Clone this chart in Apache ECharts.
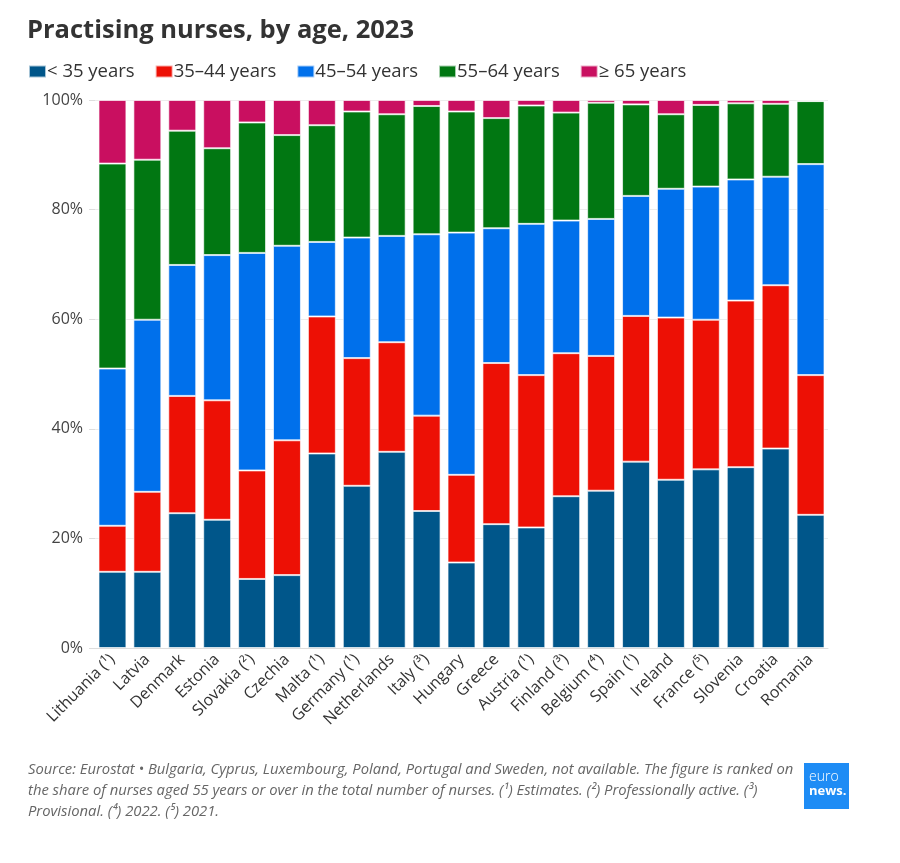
<!DOCTYPE html>
<html>
<head>
<meta charset="utf-8">
<title>Practising nurses, by age, 2023</title>
<script src="https://cdn.jsdelivr.net/npm/echarts@6/dist/echarts.min.js"></script>
<style>
html, body { margin: 0; padding: 0; background: #fff; }
#main { width: 900px; height: 863px; }
</style>
</head>
<body>
<div id="main"></div>
<script type="text/javascript">
// countries, ranked on share aged 55+
var countries = ['Lithuania (¹)', 'Latvia', 'Denmark', 'Estonia', 'Slovakia (²)', 'Czechia', 'Malta (¹)',
	'Germany (¹)', 'Netherlands', 'Italy (³)', 'Hungary', 'Greece', 'Austria (¹)', 'Finland (³)',
	'Belgium (⁴)', 'Spain (¹)', 'Ireland', 'France (⁵)', 'Slovenia', 'Croatia', 'Romania'];

// shares in %
var under35 = [13.9, 13.9, 24.6, 23.4, 12.6, 13.3, 35.5, 29.6, 35.8, 25.0, 15.6, 22.6, 22.0, 27.7, 28.7, 34.0, 30.7, 32.6, 33.0, 36.4, 24.3];
var age35to44 = [8.4, 14.6, 21.4, 21.8, 19.8, 24.6, 25.0, 23.3, 20.0, 17.4, 16.0, 29.4, 27.8, 26.1, 24.6, 26.6, 29.6, 27.3, 30.4, 29.8, 25.5];
var age45to54 = [28.7, 31.4, 23.9, 26.5, 39.7, 35.5, 13.6, 22.0, 19.4, 33.1, 44.2, 24.6, 27.6, 24.2, 25.0, 21.9, 23.5, 24.3, 22.1, 19.8, 38.5];
var age55to64 = [37.4, 29.2, 24.5, 19.5, 23.8, 20.2, 21.3, 23.0, 22.2, 23.4, 22.1, 20.1, 21.6, 19.7, 21.2, 16.7, 13.6, 14.9, 13.9, 13.3, 11.5];
var over65 = [11.6, 10.9, 5.6, 8.8, 4.1, 6.4, 4.6, 2.1, 2.6, 1.1, 2.1, 3.3, 1.0, 2.3, 0.5, 0.8, 2.6, 0.9, 0.6, 0.7, 0];

var yTicks = [0, 20, 40, 60, 80, 100];

var seriesNames = ['< 35 years', '35–44 years', '45–54 years', '55–64 years', '≥ 65 years'];
var seriesColors = ['#00568a', '#ed1005', '#0070eb', '#017712', '#c90f60'];
var seriesData = [under35, age35to44, age45to54, age55to64, over65];

var chart = echarts.init(document.getElementById('main'));

var series = [];
for (var i = 0; i < seriesNames.length; i++) {
	series.push({
		name: seriesNames[i],
		type: 'bar',
		stack: 'total',
		barCategoryGap: '20%',
		itemStyle: {
			color: seriesColors[i],
			borderColor: 'rgba(255,255,255,0.65)',
			borderWidth: 1
		},
		emphasis: { disabled: true },
		data: seriesData[i]
	});
}

var option = {
	animation: false,
	textStyle: { fontFamily: 'Open Sans' },
	title: {
		text: 'Practising nurses, by age, 2023',
		left: 22,
		top: 13,
		textStyle: { fontSize: 25.5, fontWeight: 'bold', color: '#333', fontFamily: 'Open Sans' }
	},
	legend: {
		left: 23,
		top: 57,
		itemWidth: 17,
		itemHeight: 12,
		itemGap: 20,
		icon: 'rect',
		textStyle: { fontSize: 18.5, color: '#333', padding: [0, 0, 0, -4] },
		data: seriesNames
	},
	grid: { left: 95, right: 72, top: 100, bottom: 215 },
	xAxis: {
		type: 'category',
		data: countries,
		axisLine: { lineStyle: { color: '#ddd' } },
		axisTick: { alignWithLabel: true, length: 7, lineStyle: { color: '#ddd' } },
		axisLabel: { rotate: 45, fontSize: 16, color: '#333', margin: 9, interval: 0 }
	},
	yAxis: {
		type: 'value',
		min: yTicks[0],
		max: yTicks[yTicks.length - 1],
		interval: 20,
		axisLine: { show: false },
		axisTick: { show: true, length: 6, lineStyle: { color: '#ddd' } },
		splitLine: { lineStyle: { color: '#ececec' } },
		axisLabel: { fontSize: 16, color: '#444', margin: 12, formatter: '{value}%' }
	},
	graphic: [
		{
			type: 'text',
			left: 28,
			top: 759,
			style: {
				text: 'Source: Eurostat • Bulgaria, Cyprus, Luxembourg, Poland, Portugal and Sweden, not available. The figure is ranked on\n' +
					'the share of nurses aged 55 years or over in the total number of nurses. (¹) Estimates. (²) Professionally active. (³)\n' +
					'Provisional. (⁴) 2022. (⁵) 2021.',
				font: 'italic 14.8px "Open Sans"',
				lineHeight: 21,
				fill: '#666'
			}
		},
		{
			type: 'rect',
			left: 804,
			top: 763,
			shape: { width: 45, height: 46 },
			style: { fill: '#1e8cf5' }
		},
		{
			type: 'text',
			left: 809,
			top: 770,
			style: {
				text: '{a|euro}\n{b|news.}',
				rich: {
					a: { font: '300 14px "Open Sans"', fill: '#fff', lineHeight: 14 },
					b: { font: 'bold 13px "Open Sans"', fill: '#fff', lineHeight: 14 }
				}
			}
		}
	],
	series: series
};

chart.setOption(option);
</script>
</body>
</html>
